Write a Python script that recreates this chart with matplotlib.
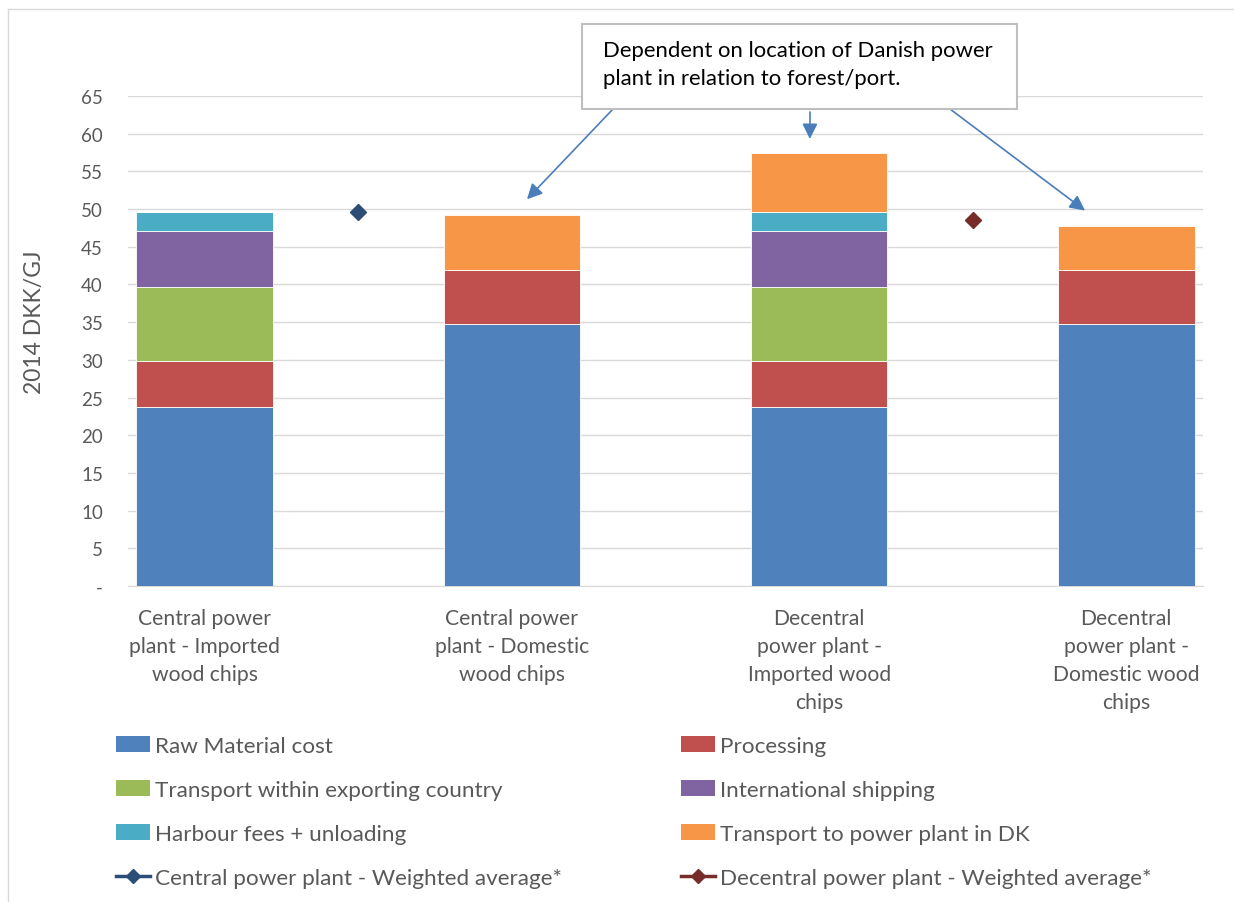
import numpy as np
import matplotlib.pyplot as plt
from matplotlib.patches import Rectangle, Patch
from matplotlib.lines import Line2D

plt.rcParams['font.family'] = ['Lato', 'DejaVu Sans']

categories = ["Central power\nplant - Imported\nwood chips",
              "Central power\nplant - Domestic\nwood chips",
              "Decentral\npower plant -\nImported wood\nchips",
              "Decentral\npower plant -\nDomestic wood\nchips"]

raw_material = [23.8, 34.8, 23.8, 34.8]
processing = [6.1, 7.1, 6.1, 7.1]
transport_export = [9.7, 0, 9.7, 0]
shipping = [7.5, 0, 7.5, 0]
harbour = [2.5, 0, 2.5, 0]
transport_dk = [0, 7.3, 7.8, 5.8]

avg_x = [0.5, 2.5]
avg_central = 49.55
avg_decentral = 48.6

series = [
    ("Raw Material cost", raw_material, "#4F81BD"),
    ("Processing", processing, "#C0504D"),
    ("Transport within exporting country", transport_export, "#9BBB59"),
    ("International shipping", shipping, "#8064A2"),
    ("Harbour fees + unloading", harbour, "#4BACC6"),
    ("Transport to power plant in DK", transport_dk, "#F79646"),
]
c_central = "#2C4D75"
c_decentral = "#772C2A"
grey = "#595959"

fig = plt.figure(figsize=(12.34, 9.03), dpi=100)
ax = fig.add_axes([128/1234, 1-587/903, 1075/1234, 490/903])

x = np.arange(len(categories))
bottom = np.zeros(len(categories))
handles = []
for name, vals, col in series:
    vals = np.array(vals, dtype=float)
    ax.bar(x, vals, 0.445, bottom=bottom, color=col, edgecolor='white', linewidth=0.6, zorder=3)
    bottom += vals
    handles.append(Patch(facecolor=col, label=name))

ax.plot(avg_x[0], avg_central, 'D', color=c_central, markersize=8.5, zorder=4)
ax.plot(avg_x[1], avg_decentral, 'D', color=c_decentral, markersize=8.5, zorder=4)
h_c = Line2D([], [], color=c_central, marker='D', markersize=7, lw=2.5, label="Central power plant - Weighted average*")
h_d = Line2D([], [], color=c_decentral, marker='D', markersize=7, lw=2.5, label="Decentral power plant - Weighted average*")

ax.set_xlim(-0.25, 3.25)
ax.set_ylim(0, 65)
ax.set_yticks(np.arange(0, 66, 5))
ax.set_yticklabels(['-'] + [str(v) for v in range(5, 66, 5)], fontsize=13.5, color=grey)
ax.set_xticks(x)
ax.set_xticklabels(categories, fontsize=15.2, color=grey, linespacing=1.5, va='top')
ax.tick_params(axis='y', length=0, pad=18)
ax.tick_params(axis='x', length=0, pad=16)
ax.grid(axis='y', color='#D9D9D9', lw=1, zorder=0)
for s in ['top', 'right', 'left']:
    ax.spines[s].set_visible(False)
ax.spines['bottom'].set_color('#D9D9D9')
ax.set_ylabel("2014 DKK/GJ", fontsize=16.5, color=grey)
ax.yaxis.set_label_coords(-0.077, 0.54)

# annotation box and arrows
fig.add_artist(Rectangle((582/1234, 1-110/903), 435/1234, 85/903, transform=fig.transFigure,
                         facecolor='white', edgecolor='#BFBFBF', lw=1.5, zorder=5))
fig.text(603/1234, 1-65/903, "Dependent on location of Danish power\nplant in relation to forest/port.",
         fontsize=15.9, color='black', va='center', ha='left', linespacing=1.55, zorder=6)
arrow_starts = [(613/1234, 1-110/903), (810/1234, 1-113/903), (950/1234, 1-110/903)]
arrow_ends = [(1.049, 51.3), (1.97, 59.3), (2.866, 49.8)]
for s, e in zip(arrow_starts, arrow_ends):
    ax.annotate("", xy=e, xycoords='data', xytext=s, textcoords='figure fraction',
                arrowprops=dict(arrowstyle='-|>', color='#4A7EBB', lw=1.2, mutation_scale=23,
                                shrinkA=0, shrinkB=0), annotation_clip=False)

# border of chart area
fig.add_artist(Line2D([8/1234, 1], [1-10/903, 1-10/903], transform=fig.transFigure, color='#D9D9D9', lw=1))
fig.add_artist(Line2D([8/1234, 8/1234], [0, 1-10/903], transform=fig.transFigure, color='#D9D9D9', lw=1))

col1 = [handles[0], handles[2], handles[4], h_c]
col2 = [handles[1], handles[3], handles[5], h_d]
leg_kw = dict(loc='upper left', frameon=False, fontsize=16.2, handlelength=1.5, handleheight=0.7,
              handletextpad=0.25, labelspacing=1.07, borderaxespad=0, borderpad=0,
              labelcolor=grey)
fig.legend(handles=col1, bbox_to_anchor=(116/1234, 1-737/903), **leg_kw)
fig.legend(handles=col2, bbox_to_anchor=(681/1234, 1-737/903), **leg_kw)

fig.savefig("out.png", dpi=100)
